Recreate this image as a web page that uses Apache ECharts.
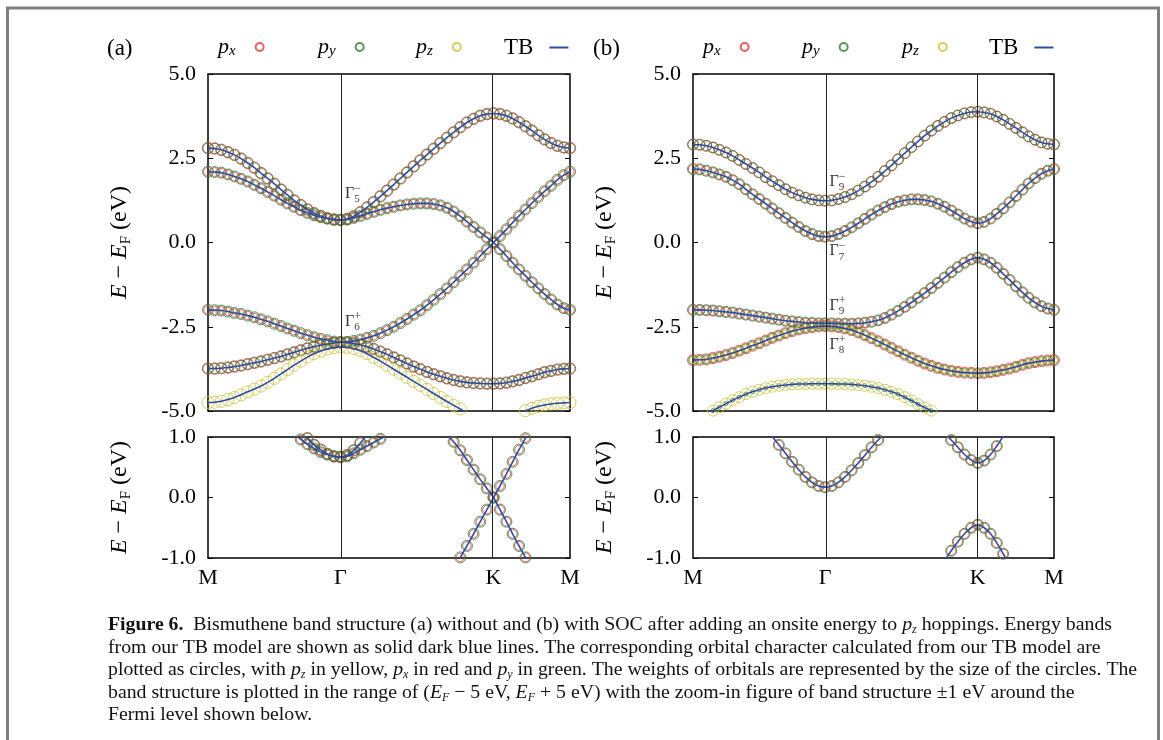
<!DOCTYPE html>
<html>
<head>
<meta charset="utf-8">
<script src="https://cdn.jsdelivr.net/npm/echarts@6/dist/echarts.min.js"></script>
<style>html,body{margin:0;padding:0;background:#fff}#c{width:1163px;height:740px}</style>
</head>
<body>
<div id="c"></div>
<script>
// ---------------- data ----------------
const kPts = [0.000,0.029,0.058,0.087,0.115,0.144,0.173,0.202,0.231,0.260,0.289,0.318,0.346,0.375,0.404,0.433,0.462,0.491,0.520,0.549,0.577,
  0.606,0.635,0.664,0.693,0.722,0.751,0.780,0.809,0.838,0.867,0.896,0.925,0.954,0.983,1.012,1.041,1.070,1.099,1.128,1.157,1.186,1.215,1.244,
  1.272,1.300,1.327,1.355,1.383,1.411,1.439,1.466,1.494,1.522,1.550,1.577];
const kTicks = [0, 0.577, 1.244, 1.577];
const kTickLabels = ['M', 'Γ', 'K', 'M'];
const mainYTicks = [-5, -2.5, 0, 2.5, 5];
const zoomYTicks = [-1, 0, 1];

// panel (a): without SOC
const bandA1 = [2.80,2.79,2.75,2.68,2.60,2.49,2.36,2.22,2.06,1.90,1.74,1.57,1.41,1.25,1.11,0.98,0.87,0.79,0.72,0.68,0.67,
  0.70,0.78,0.90,1.04,1.20,1.37,1.54,1.72,1.90,2.08,2.26,2.44,2.61,2.78,2.95,3.11,3.27,3.42,3.56,3.67,3.76,3.81,3.83,
  3.81,3.76,3.68,3.57,3.45,3.32,3.18,3.06,2.95,2.87,2.82,2.80];
const bandA2 = [2.10,2.09,2.07,2.02,1.96,1.89,1.81,1.71,1.61,1.50,1.39,1.27,1.16,1.06,0.96,0.88,0.81,0.75,0.71,0.68,0.67,
  0.68,0.73,0.79,0.85,0.91,0.97,1.02,1.06,1.10,1.13,1.15,1.16,1.16,1.14,1.10,1.03,0.92,0.78,0.62,0.46,0.30,0.15,0.00,
  -0.20,-0.40,-0.60,-0.80,-0.99,-1.18,-1.36,-1.53,-1.69,-1.84,-1.95,-2.00];
const bandA3 = [-2.00,-2.01,-2.02,-2.05,-2.09,-2.12,-2.17,-2.22,-2.28,-2.34,-2.41,-2.48,-2.55,-2.62,-2.69,-2.75,-2.81,-2.86,-2.90,-2.94,-2.96,
  -2.95,-2.92,-2.88,-2.83,-2.77,-2.69,-2.60,-2.50,-2.39,-2.27,-2.14,-2.01,-1.86,-1.70,-1.53,-1.36,-1.18,-0.99,-0.80,-0.60,-0.40,-0.20,0.00,
  0.19,0.39,0.59,0.79,0.98,1.17,1.35,1.52,1.68,1.86,2.00,2.10];
const bandA4 = [-3.74,-3.74,-3.73,-3.71,-3.68,-3.65,-3.61,-3.57,-3.53,-3.48,-3.43,-3.38,-3.32,-3.26,-3.20,-3.14,-3.09,-3.05,-3.01,-2.98,-2.96,
  -2.97,-3.00,-3.04,-3.09,-3.16,-3.24,-3.32,-3.41,-3.50,-3.59,-3.68,-3.76,-3.84,-3.91,-3.97,-4.03,-4.08,-4.12,-4.15,-4.17,-4.18,-4.19,-4.19,
  -4.18,-4.16,-4.12,-4.08,-4.02,-3.97,-3.91,-3.85,-3.81,-3.77,-3.75,-3.74];
const bandA5 = [-4.75,-4.74,-4.71,-4.66,-4.60,-4.52,-4.43,-4.35,-4.26,-4.15,-4.03,-3.90,-3.77,-3.64,-3.52,-3.40,-3.30,-3.22,-3.16,-3.12,-3.10,
  -3.11,-3.15,-3.21,-3.30,-3.41,-3.52,-3.64,-3.76,-3.88,-4.00,-4.12,-4.24,-4.36,-4.48,-4.60,-4.72,-4.83,-4.94,-5.05,-5.15,-5.23,-5.28,-5.30,
  -5.28,-5.22,-5.14,-5.06,-4.99,-4.92,-4.86,-4.82,-4.79,-4.77,-4.76,-4.75];
const pxWeightA = [0.52, 0.40, 0.38, 0.52, 0];
const pyWeightA = [0.46, 0.50, 0.50, 0.46, 0];
const pzWeightA = [0, 0, 0, 0, 0.55];
const annotEA = [1.44, -2.36];
const annotSubA = ['5', '6'];
const annotSupA = ['−', '+'];

// panel (b): with SOC
const bandB1 = [2.91,2.90,2.87,2.82,2.75,2.67,2.57,2.45,2.33,2.21,2.08,1.94,1.82,1.70,1.58,1.48,1.40,1.33,1.28,1.25,1.24,
  1.25,1.29,1.35,1.43,1.54,1.66,1.80,1.95,2.12,2.29,2.47,2.65,2.83,3.00,3.17,3.32,3.46,3.58,3.69,3.77,3.83,3.87,3.88,
  3.86,3.82,3.74,3.64,3.52,3.40,3.27,3.15,3.05,2.97,2.93,2.91];
const bandB2 = [2.18,2.17,2.13,2.08,2.02,1.95,1.85,1.73,1.58,1.43,1.29,1.15,1.01,0.87,0.73,0.59,0.46,0.34,0.25,0.19,0.17,
  0.19,0.25,0.34,0.45,0.57,0.70,0.83,0.95,1.05,1.14,1.21,1.25,1.28,1.28,1.26,1.22,1.15,1.06,0.95,0.83,0.71,0.62,0.57,
  0.61,0.71,0.85,1.01,1.19,1.38,1.57,1.75,1.91,2.04,2.13,2.18];
const bandB3 = [-2.00,-2.00,-2.01,-2.02,-2.04,-2.06,-2.08,-2.11,-2.14,-2.17,-2.20,-2.23,-2.26,-2.29,-2.32,-2.34,-2.36,-2.38,-2.39,-2.40,-2.40,
  -2.40,-2.41,-2.41,-2.41,-2.40,-2.38,-2.35,-2.31,-2.24,-2.14,-2.03,-1.91,-1.78,-1.64,-1.50,-1.35,-1.20,-1.04,-0.88,-0.73,-0.60,-0.50,-0.45,
  -0.50,-0.60,-0.75,-0.93,-1.11,-1.30,-1.48,-1.64,-1.78,-1.89,-1.96,-2.00];
const bandB4 = [-3.49,-3.48,-3.47,-3.43,-3.39,-3.34,-3.28,-3.21,-3.14,-3.06,-2.99,-2.91,-2.83,-2.76,-2.69,-2.63,-2.58,-2.54,-2.51,-2.49,-2.48,
  -2.49,-2.51,-2.55,-2.60,-2.67,-2.75,-2.84,-2.93,-3.03,-3.13,-3.23,-3.33,-3.42,-3.51,-3.59,-3.66,-3.72,-3.77,-3.81,-3.84,-3.86,-3.87,-3.88,
  -3.87,-3.85,-3.82,-3.78,-3.74,-3.69,-3.63,-3.58,-3.55,-3.52,-3.50,-3.49];
const bandB5 = [-5.38,-5.26,-5.13,-4.99,-4.89,-4.78,-4.68,-4.59,-4.50,-4.43,-4.37,-4.32,-4.28,-4.25,-4.23,-4.21,-4.20,-4.20,-4.19,-4.19,-4.19,
  -4.19,-4.20,-4.20,-4.21,-4.23,-4.25,-4.28,-4.32,-4.37,-4.43,-4.50,-4.59,-4.69,-4.80,-4.90,-4.99,-5.12,-5.25,null,null,null,null,null,
  null,null,null,null,null,null,null,null,null,null,null,null];
const pxWeightB = [0.50, 0.42, 0.42, 0.50, 0];
const pyWeightB = [0.46, 0.50, 0.50, 0.40, 0.18];
const pzWeightB = [0, 0, 0, 0.30, 0.50];
const annotEB = [1.80, -0.26, -1.88, -3.04];
const annotSubB = ['9', '7', '9', '8'];
const annotSupB = ['−', '−', '+', '+'];

// ---------------- styles / layout ----------------
const FONT = '"Liberation Serif", "DejaVu Serif", serif';
const COLORS = { px: '#e4372f', py: '#2f7a3a', pz: '#c8c23c', TB: '#2d4c9c' };
const SIZE_PER_WEIGHT = 22;
const GRIDS = [
  { left: 208, top: 74, width: 362, height: 337 },
  { left: 208, top: 437, width: 362, height: 121 },
  { left: 693, top: 74, width: 361, height: 337 },
  { left: 693, top: 437, width: 361, height: 121 }
];

const panels = [
  { bands: [bandA1, bandA2, bandA3, bandA4, bandA5], w: { px: pxWeightA, py: pyWeightA, pz: pzWeightA },
    annE: annotEA, annSub: annotSubA, annSup: annotSupA, grids: [0, 1] },
  { bands: [bandB1, bandB2, bandB3, bandB4, bandB5], w: { px: pxWeightB, py: pyWeightB, pz: pzWeightB },
    annE: annotEB, annSub: annotSubB, annSup: annotSupB, grids: [2, 3] }
];

const nameRich = {
  i: { fontStyle: 'italic', fontSize: 24, fontFamily: FONT, color: '#000', lineHeight: 28 },
  s: { fontSize: 15, fontFamily: FONT, color: '#000', verticalAlign: 'bottom', lineHeight: 14 },
  n: { fontSize: 24, fontFamily: FONT, color: '#000', lineHeight: 28 }
};
const yName = '{i|E}{n| − }{i|E}{s|F}{n| (eV)}';

const grid = GRIDS.map(g => Object.assign({ show: true, borderColor: '#000', borderWidth: 1.5, backgroundColor: 'transparent' }, g));

const xAxis = GRIDS.map((g, gi) => ({
  type: 'value', gridIndex: gi, min: kTicks[0], max: kTicks[kTicks.length - 1],
  axisLine: { show: false }, axisTick: { show: false }, splitLine: { show: false },
  axisLabel: {
    show: gi % 2 === 1, customValues: kTicks, margin: 9,
    fontFamily: FONT, fontSize: 22, color: '#000',
    formatter: v => {
      let best = 0;
      kTicks.forEach((t, i) => { if (Math.abs(t - v) < Math.abs(kTicks[best] - v)) best = i; });
      return kTickLabels[best];
    }
  }
}));

const yAxis = [];
GRIDS.forEach((g, gi) => {
  const ticks = gi % 2 === 0 ? mainYTicks : zoomYTicks;
  ['left', 'right'].forEach(side => {
    yAxis.push({
      type: 'value', gridIndex: gi, position: side,
      min: ticks[0], max: ticks[ticks.length - 1], interval: ticks[1] - ticks[0],
      axisLine: { show: false }, splitLine: { show: false },
      axisTick: { show: true, inside: true, length: 5, lineStyle: { color: '#000', width: 1 } },
      axisLabel: { show: side === 'left', fontFamily: FONT, fontSize: 22, color: '#000', margin: 12,
        formatter: v => v.toFixed(1) },
      name: side === 'left' ? yName : '', nameLocation: 'middle', nameGap: 74, nameRotate: 90,
      nameTextStyle: { fontFamily: FONT, fontSize: 24, color: '#000', rich: nameRich }
    });
  });
});

const series = [];
panels.forEach(p => {
  p.grids.forEach(gi => {
    const isMain = gi % 2 === 0;
    series.push({
      type: 'line', name: '_sym', xAxisIndex: gi, yAxisIndex: 2 * gi, data: [], silent: true, z: 1,
      markLine: { symbol: 'none', silent: true, animation: false, label: { show: false },
        lineStyle: { color: '#222', width: 1, type: 'solid' },
        data: [{ xAxis: kTicks[1] }, { xAxis: kTicks[2] }] }
    });
    ['px', 'py', 'pz'].forEach(orb => {
      const data = [];
      p.bands.forEach((band, bi) => {
        const w = p.w[orb][bi];
        if (!w) return;
        band.forEach((E, i) => { if (E !== null) data.push([kPts[i], E, w]); });
      });
      series.push({
        type: 'scatter', name: orb, xAxisIndex: gi, yAxisIndex: 2 * gi, data, clip: true, silent: true,
        symbol: 'circle', symbolSize: v => v[2] * SIZE_PER_WEIGHT,
        itemStyle: { color: 'rgba(0,0,0,0)', borderColor: COLORS[orb], borderWidth: 1 }
      });
    });
    p.bands.forEach(band => {
      series.push({
        type: 'line', name: 'TB', xAxisIndex: gi, yAxisIndex: 2 * gi, clip: true, silent: true,
        data: band.map((E, i) => [kPts[i], E]), symbol: 'none', showSymbol: false, smooth: 0.3,
        connectNulls: false, lineStyle: { color: COLORS.TB, width: 1.6 }, itemStyle: { color: COLORS.TB }
      });
    });
    if (isMain) {
      const annData = p.annE.map((E, i) => ({ value: [kTicks[1], E], sub: p.annSub[i], sup: p.annSup[i] }));
      series.push({
        type: 'scatter', name: '_ann', xAxisIndex: gi, yAxisIndex: 2 * gi, data: annData, silent: true,
        symbolSize: 1, itemStyle: { color: 'rgba(0,0,0,0)' },
        label: { show: true, position: 'right', distance: 4, lineHeight: 22, color: '#000',
          formatter: q => '{g|Γ}{b|' + q.data.sub + '}',
          rich: { g: { fontSize: 16, lineHeight: 22, fontFamily: FONT, color: '#000' },
                  b: { fontSize: 11, lineHeight: 11, verticalAlign: 'bottom', fontFamily: FONT, color: '#000' } } }
      });
      series.push({
        type: 'scatter', name: '_ann2', xAxisIndex: gi, yAxisIndex: 2 * gi, data: annData, silent: true,
        symbolSize: 1, itemStyle: { color: 'rgba(0,0,0,0)' },
        label: { show: true, position: 'right', distance: 4, lineHeight: 22, color: '#000',
          formatter: q => '{h|Γ}{t|' + q.data.sup + '}',
          rich: { h: { fontSize: 16, lineHeight: 22, fontFamily: FONT, color: 'rgba(0,0,0,0)' },
                  t: { fontSize: 12, lineHeight: 12, verticalAlign: 'top', fontFamily: FONT, color: '#000' } } }
      });
    }
  });
});

// legends (one per entry so each can be placed like the original)
const legendRich = {
  p: { fontStyle: 'italic', fontSize: 22, fontFamily: FONT, color: '#000', lineHeight: 24 },
  s: { fontStyle: 'italic', fontSize: 15, fontFamily: FONT, color: '#000', verticalAlign: 'bottom', lineHeight: 16 },
  t: { fontSize: 23, fontFamily: FONT, color: '#000', lineHeight: 24, padding: [0, 11, 0, 0] }
};
const legendFmt = { px: '{p|p}{s|x}', py: '{p|p}{s|y}', pz: '{p|p}{s|z}', TB: '{t|TB}' };
const legendNames = ['px', 'py', 'pz', 'TB'];
const legendLefts = [[218, 318, 416, 504], [703, 802, 902, 989]];
const legend = [];
legendLefts.forEach(row => row.forEach((left, i) => {
  const nm = legendNames[i];
  const isLine = nm === 'TB';
  legend.push({
    data: [nm], left, top: 36, padding: 0, align: 'right', selectedMode: false,
    icon: isLine ? 'rect' : 'circle',
    itemWidth: isLine ? 19 : 38, itemHeight: isLine ? 2 : 8,
    formatter: n => legendFmt[n],
    textStyle: { fontFamily: FONT, fontSize: 22, color: '#000', rich: legendRich }
  });
}));

// caption
const captionLines = [
  '{b|Figure 6.}  Bismuthene band structure (a) without and (b) with SOC after adding an onsite energy to {i|p}{s|z} hoppings. Energy bands',
  'from our TB model are shown as solid dark blue lines. The corresponding orbital character calculated from our TB model are',
  'plotted as circles, with {i|p}{s|z} in yellow, {i|p}{s|x} in red and {i|p}{s|y} in green. The weights of orbitals are represented by the size of the circles. The',
  'band structure is plotted in the range of ({i|E}{s|F} − 5 eV, {i|E}{s|F} + 5 eV) with the zoom-in figure of band structure ±1 eV around the',
  'Fermi level shown below.'
];
const capFont = 19.8;
const capRich = {
  b: { fontWeight: 'bold', fontSize: capFont, fontFamily: FONT, fill: '#111' },
  i: { fontStyle: 'italic', fontSize: capFont, fontFamily: FONT, fill: '#111' },
  s: { fontStyle: 'italic', fontSize: 12, fontFamily: FONT, fill: '#111', verticalAlign: 'bottom', lineHeight: 12 }
};
const graphic = [
  { type: 'rect', silent: true, z: 100, shape: { x: 7.5, y: 8, width: 1151, height: 780 },
    style: { fill: 'none', stroke: '#7f7f7f', lineWidth: 3 } },
  { type: 'text', left: 107, top: 37, silent: true, style: { text: '(a)', fontFamily: FONT, fontSize: 23, fill: '#000' } },
  { type: 'text', left: 593, top: 37, silent: true, style: { text: '(b)', fontFamily: FONT, fontSize: 23, fill: '#000' } }
];
captionLines.forEach((line, i) => {
  graphic.push({ type: 'text', silent: true, x: 108, y: 625 + i * 22.5,
    style: { text: line, rich: capRich, fontFamily: FONT, fontSize: capFont, fill: '#111', verticalAlign: 'middle', lineHeight: 22 } });
});

const chart = echarts.init(document.getElementById('c'), null, { renderer: 'canvas' });
chart.setOption({
  animation: false,
  backgroundColor: '#fff',
  grid, xAxis, yAxis, series, legend, graphic
});
</script>
</body>
</html>
